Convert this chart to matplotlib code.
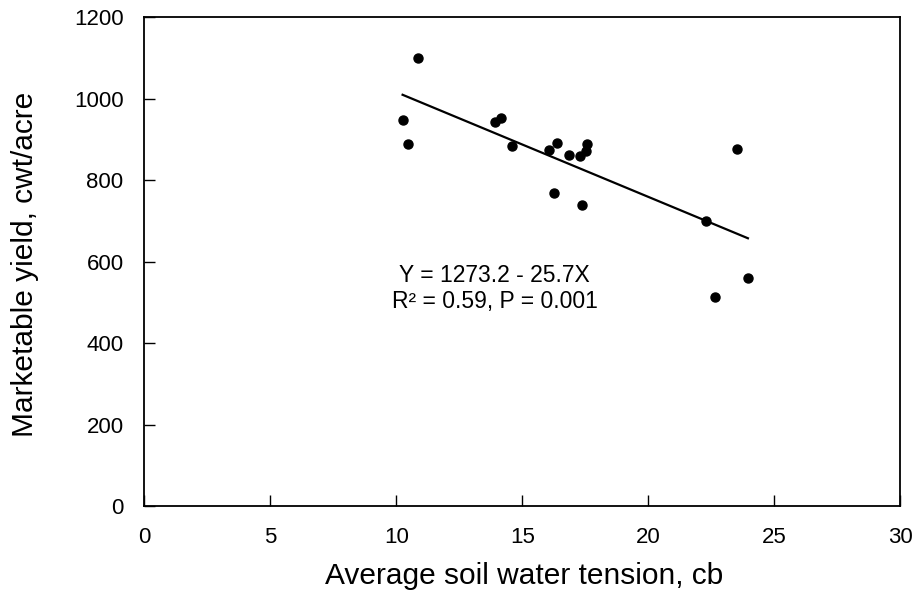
import matplotlib
matplotlib.use('Agg')
import matplotlib.pyplot as plt
import numpy as np

plt.rcParams['font.family'] = ['Liberation Sans', 'DejaVu Sans']

# soil water tension (cb) and marketable yield (cwt/acre)
tension = [10.85, 10.25, 10.48, 13.93, 14.14, 14.61, 16.06, 16.39, 16.87,
           17.28, 17.54, 17.58, 16.26, 17.38, 23.53, 22.31, 23.96, 22.66]
yield_cwt = [1101, 948, 888, 943, 953, 884, 874, 891, 862,
             860, 872, 889, 769, 738, 876, 699, 561, 512]

intercept = 1273.2
slope = -25.7

xticks = [0, 5, 10, 15, 20, 25, 30]
yticks = [0, 200, 400, 600, 800, 1000, 1200]


def main():
    fig = plt.figure(figsize=(9.17, 5.99), dpi=100)
    ax = fig.add_axes([0.1575, 0.1553, 0.824, 0.8158])

    ax.plot(tension, yield_cwt, 'o', color='black', markersize=6.5)

    xfit = np.array([min(tension), max(tension)])
    ax.plot(xfit, intercept + slope * xfit, color='black', linewidth=1.6)

    ax.text(13.9, 549, 'Y = 1273.2 - 25.7X', ha='center', va='baseline', fontsize=16.5)
    ax.text(13.9, 485, 'R\u00b2 = 0.59, P = 0.001', ha='center', va='baseline', fontsize=16.5)

    ax.set_xlim(0, 30)
    ax.set_ylim(0, 1200)
    ax.set_xticks(xticks)
    ax.set_yticks(yticks)
    ax.tick_params(direction='in', length=8, width=1, labelsize=16,
                   top=False, right=False)
    ax.tick_params(axis='x', pad=15)
    ax.tick_params(axis='y', pad=15)
    for s in ax.spines.values():
        s.set_linewidth(1.3)

    ax.set_xlabel('Average soil water tension, cb', fontsize=21.5)
    ax.set_ylabel('Marketable yield, cwt/acre', fontsize=21.5)
    ax.xaxis.set_label_coords(0.502, -0.114)
    ax.yaxis.set_label_coords(-0.14, 0.495)

    plt.savefig('out.png', dpi=100)

main()
